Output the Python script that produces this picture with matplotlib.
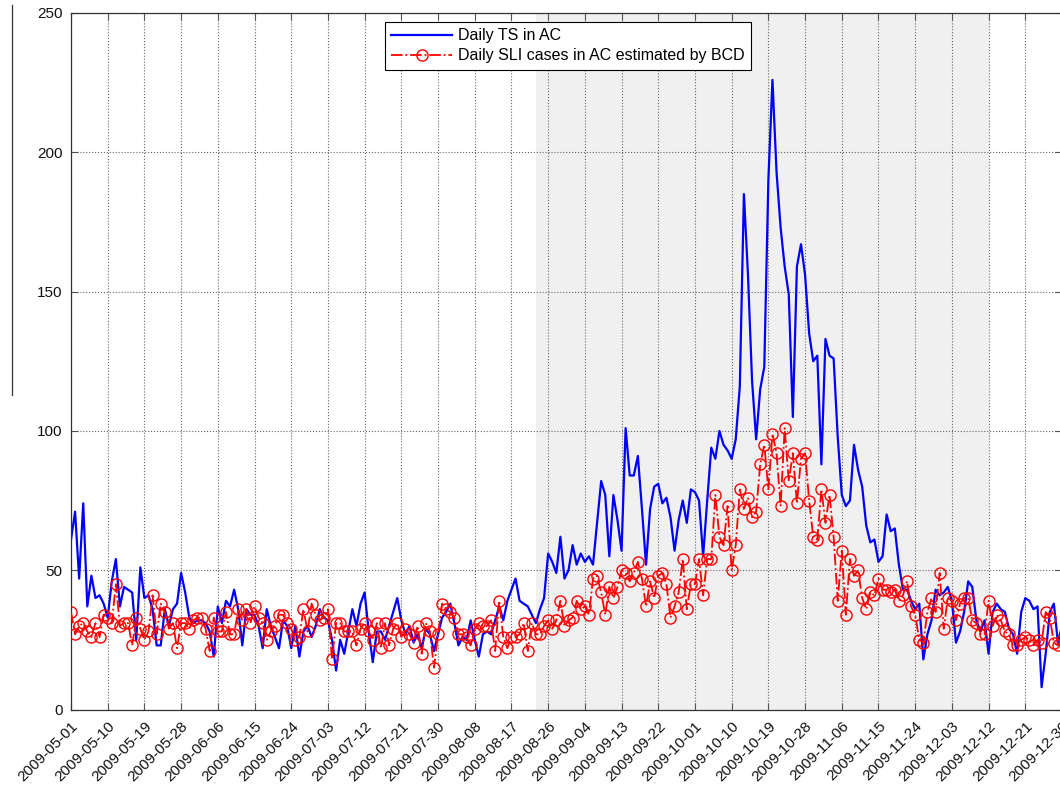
import numpy as np
import pandas as pd
import matplotlib
matplotlib.use('Agg')
import matplotlib.pyplot as plt
import matplotlib.dates as mdates
from matplotlib.lines import Line2D

plt.rcParams['font.family'] = ['Liberation Sans', 'DejaVu Sans']

start_date = '2009-05-01'
shade_start = '2009-08-23'
shade_end = '2009-12-12'

ts_daily = [
    61, 71, 47, 74, 37, 48, 40, 41, 38, 33,
    46, 54, 37, 44, 43, 42, 25, 51, 40, 41,
    36, 23, 23, 36, 30, 36, 38, 49, 42, 33,
    31, 32, 32, 31, 28, 19, 37, 31, 39, 37,
    43, 36, 23, 36, 34, 34, 30, 22, 36, 30,
    26, 22, 32, 30, 22, 30, 19, 28, 30, 26,
    30, 36, 33, 32, 25, 14, 25, 20, 28, 36,
    30, 38, 42, 28, 17, 28, 28, 25, 30, 35,
    40, 32, 27, 30, 24, 27, 22, 29, 27, 21,
    27, 33, 35, 38, 31, 23, 26, 25, 32, 25,
    19, 27, 28, 27, 32, 37, 32, 39, 43, 47,
    39, 38, 37, 34, 31, 36, 40, 56, 53, 49,
    62, 47, 50, 59, 52, 56, 53, 55, 52, 67,
    82, 77, 55, 77, 68, 57, 101, 84, 84, 91,
    72, 52, 72, 80, 81, 74, 76, 69, 57, 68,
    75, 67, 79, 78, 75, 55, 75, 94, 90, 100,
    95, 93, 90, 97, 116, 185, 156, 118, 97, 115,
    123, 190, 226, 193, 173, 159, 149, 105, 159, 167,
    156, 135, 125, 127, 88, 133, 127, 126, 98, 77,
    73, 75, 95, 86, 80, 66, 60, 61, 53, 55,
    70, 64, 65, 52, 43, 43, 39, 36, 38, 18,
    27, 32, 43, 41, 42, 44, 39, 24, 28, 35,
    46, 44, 32, 28, 32, 20, 35, 38, 36, 35,
    29, 27, 20, 35, 40, 39, 36, 37, 8, 20,
    35, 38, 24, 30,
]

sli_est = [
    35, 27, 30, 31, 28, 26, 31, 26, 34, 33,
    31, 45, 30, 31, 31, 23, 33, 29, 25, 28,
    41, 27, 38, 35, 29, 31, 22, 31, 31, 29,
    32, 33, 33, 29, 21, 33, 28, 28, 35, 27,
    27, 36, 32, 36, 31, 37, 33, 31, 25, 28,
    30, 34, 34, 31, 29, 25, 26, 36, 28, 38,
    34, 32, 33, 36, 18, 31, 31, 28, 28, 28,
    23, 29, 31, 28, 25, 31, 22, 31, 23, 29,
    31, 26, 29, 27, 24, 30, 20, 31, 28, 15,
    27, 38, 36, 35, 33, 27, 27, 26, 23, 29,
    31, 30, 30, 32, 21, 39, 26, 22, 26, 26,
    27, 31, 21, 31, 27, 27, 30, 32, 29, 32,
    39, 30, 32, 33, 39, 36, 37, 34, 47, 48,
    42, 34, 44, 40, 44, 50, 49, 46, 49, 53,
    47, 37, 46, 40, 48, 49, 45, 33, 37, 42,
    54, 36, 45, 45, 54, 41, 54, 54, 77, 62,
    59, 73, 50, 59, 79, 72, 76, 69, 71, 88,
    95, 79, 99, 92, 73, 101, 82, 92, 74, 90,
    92, 75, 62, 61, 79, 67, 77, 62, 39, 57,
    34, 54, 48, 50, 40, 36, 42, 41, 47, 43,
    43, 42, 43, 39, 41, 46, 37, 34, 25, 24,
    35, 40, 35, 49, 29, 40, 39, 32, 38, 40,
    40, 32, 31, 27, 27, 39, 30, 34, 32, 28,
    27, 23, 23, 25, 26, 25, 23, 25, 24, 35,
    33, 24, 23, 25,
]

legend_labels = ['Daily TS in AC', 'Daily SLI cases in AC estimated by BCD']
y_ticks = [0, 50, 100, 150, 200, 250]

dates = pd.date_range(start_date, periods=len(ts_daily), freq='D')
tick_dates = pd.date_range(start_date, '2009-12-30', freq='9D')

W, H = 1060, 790
fig = plt.figure(figsize=(W / 100, H / 100), dpi=100)
ax = fig.add_axes([71 / W, (H - 709.5) / H, (1062 - 71) / W, (709.5 - 13) / H])

ax.axvspan(pd.Timestamp(shade_start), pd.Timestamp(shade_end),
           color='#f0f0f0', zorder=0.5, lw=0)

ax.plot(dates, ts_daily, color='#0000ff', lw=1.6, label=legend_labels[0], zorder=2)
ax.plot(dates, sli_est, color='#ff0000', lw=1.3, ls='-.', marker='o',
        markersize=8, markerfacecolor='none', markeredgecolor='#ff0000',
        markeredgewidth=1.0, label=legend_labels[1], zorder=3)

ax.set_xlim(pd.Timestamp(start_date), pd.Timestamp('2009-12-30'))
ax.set_ylim(0, 250)
ax.set_yticks(y_ticks)
ax.set_xticks(tick_dates)
ax.xaxis.set_major_formatter(mdates.DateFormatter('%Y-%m-%d'))
for lab in ax.get_xticklabels():
    lab.set_rotation(45)
    lab.set_ha('right')
    lab.set_va('top')
    lab.set_rotation_mode('anchor')

ax.tick_params(direction='in', top=True, right=True, length=5, width=0.8,
               labelsize=11, colors='#555555', labelcolor='#111111', pad=6)
ax.tick_params(axis='x', pad=7)
ax.grid(True, ls=':', color='#666666', lw=0.8)
for s in ax.spines.values():
    s.set_color('#333333')
    s.set_linewidth(0.9)

leg = ax.legend(loc='upper left', bbox_to_anchor=(385 / W, 1 - 22 / H),
                bbox_transform=fig.transFigure, fontsize=11.5, frameon=True,
                fancybox=False, edgecolor='black', framealpha=1,
                handlelength=3.8, numpoints=1, borderaxespad=0,
                borderpad=0.4, labelspacing=0.3, handletextpad=0.35)
leg.get_frame().set_linewidth(0.8)

fig.add_artist(Line2D([12 / W, 12 / W], [1 - 5 / H, 1 - 395 / H],
                      transform=fig.transFigure, color='#333333', lw=0.9))

fig.savefig('out.png', dpi=100)
